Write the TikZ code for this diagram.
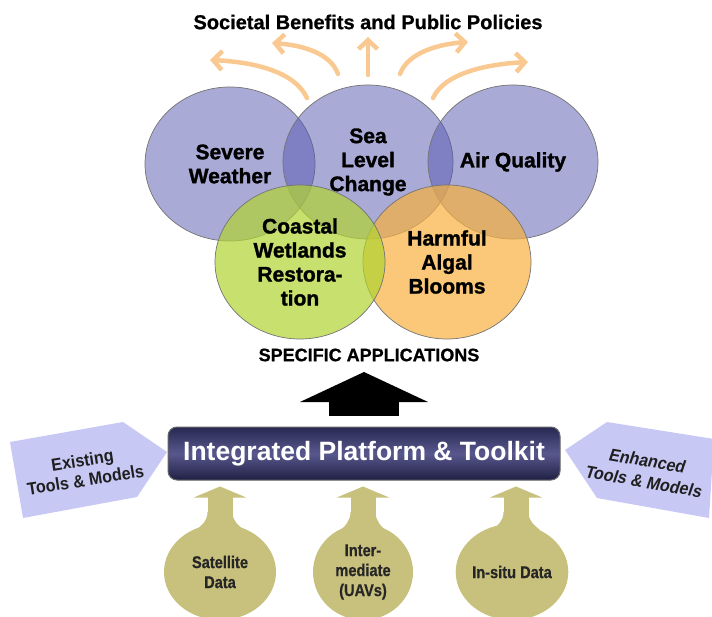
\documentclass[tikz,border=0pt]{standalone}
\usepackage{fontspec}
\setmainfont{Liberation Sans}
\newfontfamily\heavy[FakeBold=1.4]{Liberation Sans Bold}
\newfontfamily\titlefont[FakeBold=0.8]{Liberation Sans Bold}
\newfontfamily\narrowb[FakeStretch=0.86,FakeBold=0.6]{Liberation Sans Bold}
\newfontfamily\tagfont[FakeStretch=0.92]{Liberation Sans Bold}
\newfontfamily\tagfontit[FakeStretch=0.92,FakeSlant=0.15]{Liberation Sans Bold}
\usetikzlibrary{shapes.geometric,arrows.meta,calc}
\definecolor{venpurple}{RGB}{85,85,175}
\definecolor{vengreen}{RGB}{176,212,48}
\definecolor{venorange}{RGB}{248,176,62}
\definecolor{arroworange}{RGB}{250,200,145}
\definecolor{lav}{RGB}{200,200,245}
\definecolor{khaki}{RGB}{200,192,125}
\definecolor{navytop}{RGB}{40,40,82}
\definecolor{navymid}{RGB}{88,88,142}
\definecolor{navybot}{RGB}{32,32,68}
\tikzset{
  venn/.style={ellipse, minimum width=170pt, minimum height=154pt, inner sep=0pt,
    draw=black!55, line width=0.7pt, text opacity=1, align=center,
    font=\heavy\fontsize{21}{24}\selectfont},
  vpurple/.style={venn, fill=venpurple, fill opacity=0.5},
  vgreen/.style={venn, fill=vengreen, fill opacity=0.7},
  vorange/.style={venn, fill=venorange, fill opacity=0.7},
  benefit/.style={draw=arroworange, line width=4.5pt, line cap=round,
    -{Straight Barb[length=9pt,width=19pt]}},
  balloon/.style={ellipse, fill=khaki, minimum height=96pt, inner sep=0pt,
    align=center, text=black!85, font=\narrowb\fontsize{17}{20}\selectfont},
  feed/.style={draw=khaki, line width=25pt, -{Triangle[width=52pt,length=11pt]}},
  bigup/.style={draw=black, line width=70pt, -{Triangle[width=127pt,length=30pt]}},
  platform/.style={rounded corners=9pt, minimum width=392pt, minimum height=53pt,
    draw=black!60, line width=1pt, top color=navytop, bottom color=navybot,
    middle color=navymid, text=white, font=\bfseries\fontsize{26.5}{30}\selectfont},
  tagtext/.style={align=center, text=black!88}
}
\begin{document}
\begin{tikzpicture}[x=1pt,y=-1pt]
\useasboundingbox (0,0) rectangle (712,617);

% title
\node[font=\titlefont\fontsize{20}{24}\selectfont] (title) at (368,22) {Societal Benefits and Public Policies};

% orange benefit arrows
\coordinate (o1s) at (307,98); \coordinate (o1e) at (210,60);
\coordinate (o2s) at (338,74); \coordinate (o2e) at (272,43);
\coordinate (o3s) at (368,75); \coordinate (o3e) at (368,37);
\coordinate (o4s) at (400,74); \coordinate (o4e) at (468,42);
\coordinate (o5s) at (433,98); \coordinate (o5e) at (528,62);
\draw[benefit] (o1s) .. controls (295,72) and (255,62) .. (o1e);
\draw[benefit] (o2s) .. controls (330,52) and (300,45) .. (o2e);
\draw[benefit] (o3s) -- (o3e);
\draw[benefit] (o4s) .. controls (408,52) and (440,44) .. (o4e);
\draw[benefit] (o5s) .. controls (445,72) and (490,64) .. (o5e);

% venn circles
\node[vpurple] (severe) at (230,164) {Severe\\Weather};
\node[vpurple] (sea) at (368,162) {Sea\\Level\\Change};
\node[vpurple] (air) at (513,162) {Air Quality};
\node[vorange, minimum width=168pt] (hab) at (447,262) {Harmful\\Algal\\Blooms};
\node[vgreen] (coast) at (300,262) {Coastal\\Wetlands\\Restora-\\tion};

% specific applications
\node[font=\titlefont\fontsize{18}{20}\selectfont] (apps) at (369,355) {SPECIFIC APPLICATIONS};

% platform box
\node[platform] (box) at (364,453.5) {Integrated Platform \& Toolkit};
\coordinate (tip) at (364,372);
\draw[bigup] ($(box.north)+(0,-11)$) -- (tip);

% side pentagons
\fill[lav] (10,442) -- (123,422) -- (167,452) -- (137,497) -- (23,518) -- cycle;
\node[tagtext, rotate=9, font=\tagfont\fontsize{17.5}{20}\selectfont] (exist) at (84,470) {Existing\\Tools \& Models};
\fill[lav] (565,450) -- (607,422) -- (714,439) -- (709,518) -- (597,498) -- cycle;
\node[tagtext, rotate=-10, font=\tagfontit\fontsize{17.5}{21}\selectfont] (enh) at (645,471) {Enhanced\\Tools \& Models};

% data balloons
\node[balloon, minimum width=112pt] (sat) at (220,572) {Satellite\\Data};
\node[balloon, minimum width=100pt] (uav) at (363,572) {Inter-\\mediate\\(UAVs)};
\node[balloon, minimum width=110pt] (insitu) at (512,572) {In-situ Data};
% necks of the balloons
\fill[khaki] (207.5,512) .. controls (207.5,521) and (202,525) .. (196,530) -- (244,530) .. controls (238,525) and (232.5,521) .. (232.5,512) -- cycle;
\fill[khaki] (350.5,512) .. controls (350.5,521) and (345,526) .. (339,532) -- (387,532) .. controls (381,526) and (375.5,521) .. (375.5,512) -- cycle;
\fill[khaki] (503.5,512) .. controls (503.5,521) and (498,525) .. (492,530) -- (540,530) .. controls (534,525) and (528.5,521) .. (528.5,512) -- cycle;
\draw[feed] ($(sat.north)+(0,5)$) -- ($(sat.north |- box.south)+(0,6)$);
\draw[feed] ($(uav.north)+(0,5)$) -- ($(uav.north |- box.south)+(0,6)$);
\draw[feed] ($(insitu.north)+(4,5)$) -- ($(insitu.north |- box.south)+(4,6)$);
\end{tikzpicture}
\end{document}
